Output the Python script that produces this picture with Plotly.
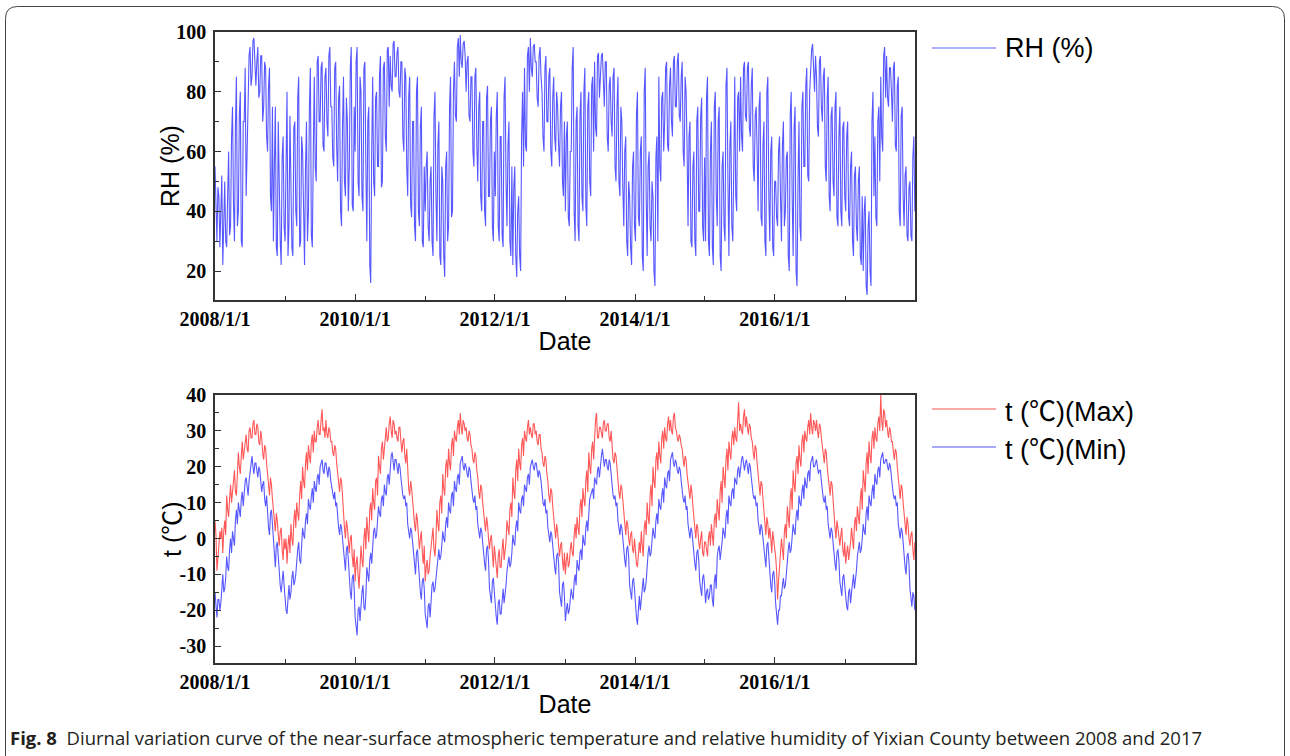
import pandas as pd
import plotly.graph_objects as go

# ---------------- data (~6 samples per month) ----------------
rh = [
    # 2008
    55,38,30,48,45,28, 38,52,22,35,50,30, 28,45,60,32,35,65, 75,42,30,68,85,35, 40,72,80,30,28,70, 70,88,45,60,85,92,
    95,82,85,97,98,88, 82,90,95,78,80,92, 92,70,75,90,88,65, 60,82,88,45,40,75, 30,55,75,28,25,70, 45,30,22,58,65,35,
    # 2009
    30,62,80,25,35,72, 55,28,25,68,70,40, 35,78,85,28,30,65, 60,35,22,55,70,30, 40,75,88,32,28,60, 85,55,50,90,92,70,
    70,88,90,62,60,85, 88,70,65,92,95,75, 75,58,55,88,90,62, 50,78,82,40,35,68, 85,50,45,78,70,40, 55,88,95,42,40,75,
    # 2010
    60,90,95,50,45,85, 80,45,40,88,90,55, 30,70,75,22,16,60, 85,50,45,78,80,55, 55,85,92,48,50,88, 90,65,60,94,95,75,
    92,82,80,96,97,85, 85,93,95,80,78,90, 90,65,60,88,85,55, 45,78,85,42,38,70, 70,35,30,80,85,40, 35,68,75,30,28,55,
    # 2011
    40,55,60,35,30,50, 55,30,25,72,80,45, 30,62,70,25,22,55, 50,25,18,55,60,30, 35,75,85,38,40,80, 90,72,70,95,98,85,
    99,90,88,96,97,92, 80,90,92,72,70,85, 85,60,55,85,88,62, 50,75,80,45,40,70, 70,40,35,78,82,45, 45,70,75,35,30,60,
    # 2012
    45,72,80,35,30,65, 65,32,28,78,85,50, 35,62,70,30,25,55, 22,48,55,25,18,40, 45,25,20,65,80,55, 88,62,60,92,95,80,
    98,88,85,95,96,90, 90,78,75,92,95,85, 80,65,60,88,92,70, 70,85,88,60,55,78, 85,65,60,80,75,62, 55,75,80,50,45,70,
    # 2013
    40,65,70,38,35,60, 60,88,95,40,30,70, 75,35,30,72,80,45, 40,80,88,42,35,75, 80,50,45,82,85,60, 90,68,65,92,93,78,
    88,92,93,80,75,90, 90,65,60,82,85,70, 65,85,88,55,50,75, 85,50,45,75,70,48, 35,60,65,30,25,50, 45,28,22,55,60,35,
    # 2014
    30,72,80,38,35,60, 65,25,20,80,88,45, 25,55,60,35,30,50, 45,20,15,58,65,30, 85,55,50,78,80,60, 70,88,90,62,60,82,
    88,70,65,90,92,75, 75,90,93,72,70,85, 90,60,55,85,80,62, 35,65,70,30,28,55, 60,30,25,70,75,40, 40,72,78,35,30,58,
    # 2015
    30,78,85,30,25,60, 70,28,22,75,80,45, 35,70,75,25,20,55, 60,35,30,82,88,50, 25,62,70,35,30,55, 85,45,40,78,80,60,
    85,65,60,88,90,72, 70,88,90,68,65,82, 88,55,50,72,75,60, 40,75,80,38,35,62, 70,30,25,80,85,45, 30,60,65,28,25,50,
    # 2016
    50,38,35,60,65,45, 30,62,70,35,40,58, 60,25,20,72,80,45, 25,68,75,20,15,50, 70,35,30,75,80,55, 55,82,88,52,50,80,
    90,94,96,85,80,92, 85,68,65,90,92,75, 70,85,88,55,50,78, 85,45,40,72,75,50, 45,75,80,38,35,65, 75,40,35,68,70,45,
    # 2017
    40,65,70,38,35,55, 60,30,25,52,55,35, 30,50,55,25,22,45, 20,40,45,15,12,35, 40,20,15,70,80,45, 65,38,35,70,75,50,
    85,65,60,92,95,78, 92,78,75,88,88,80, 70,88,90,62,60,82, 85,40,35,72,75,45, 35,52,55,32,30,48, 50,32,30,58,65,40,
]

t_max = [
    # 2008
    5,1,-9,-4,-2,2, 0,3,-4,2,5,1, 12,8,6,11,15,10, 14,17,19,13,12,18, 24,20,18,23,27,22, 25,28,29,25,24,30,
    31,28,28,32,33,29, 29,32,31,27,26,30, 28,24,22,26,25,21, 18,15,12,17,15,11, 8,4,2,7,5,1, -2,2,3,-3,-6,0,
    # 2009
    -3,0,-7,-2,1,-4, 4,0,-2,5,8,3, 10,7,5,12,16,11, 20,16,14,21,24,19, 26,23,21,27,29,24, 30,27,27,31,33,29,
    29,33,36,30,31,28, 33,29,28,31,30,27, 27,24,23,26,25,21, 18,15,13,17,16,12, 6,3,0,5,3,-1, -4,0,1,-5,-8,-3,
    # 2010
    -12,-7,-5,-10,-14,-8, -2,-6,-8,0,3,-3, 6,2,-1,8,10,5, 14,10,8,16,17,12, 23,20,18,25,27,22, 26,30,31,27,28,32,
    34,30,28,33,32,29, 30,28,27,31,31,27, 24,27,28,23,21,25, 17,14,12,16,14,10, 8,4,2,7,5,1, -3,0,2,-4,-7,-2,
    # 2011
    -12,-8,-6,-10,-9,-5, -2,1,3,-3,-5,0, 8,4,2,10,12,7, 18,14,12,20,22,17, 25,21,19,26,28,23, 30,28,27,31,33,29,
    35,31,29,33,32,30, 31,28,27,30,29,26, 25,22,21,24,23,19, 17,13,11,15,14,10, 7,4,2,6,4,0, -3,0,1,-4,-8,-2,
    # 2012
    -6,-9,-11,-5,-3,-8, -8,-3,0,-6,-4,-1, 5,2,1,8,10,6, 17,13,11,19,22,16, 25,21,19,26,28,23, 30,28,27,31,33,29,
    31,29,28,32,32,29, 30,27,26,29,29,25, 24,21,20,23,22,18, 16,12,10,14,13,9, 5,2,0,4,2,-2, -5,-2,-1,-6,-9,-4,
    # 2013
    -10,-6,-4,-8,-7,-3, -1,-4,-5,1,4,0, 6,3,1,9,11,6, 14,11,9,16,19,13, 24,20,18,25,27,22, 29,33,35,28,28,31,
    31,29,28,32,33,30, 30,32,32,28,27,30, 25,22,21,24,23,19, 16,13,11,15,14,10, 6,3,1,5,4,0, -2,1,2,-3,-4,0,
    # 2014
    -5,-7,-8,-3,-1,-4, 2,-2,-5,3,5,1, 10,6,4,12,15,9, 20,16,14,22,24,19, 27,23,21,28,30,25, 31,28,27,32,34,30,
    33,30,29,34,35,31, 30,28,27,29,28,26, 25,22,20,23,22,18, 16,13,11,15,13,9, 5,2,0,4,3,-1, -3,0,2,-4,-5,-1,
    # 2015
    -1,-3,-5,0,2,-2, 4,1,-2,5,7,3, 11,8,5,13,16,10, 20,17,14,22,25,19, 27,24,22,28,30,26, 31,28,27,33,38,30,
    32,30,29,34,36,31, 34,31,29,32,31,28, 27,24,22,26,25,21, 17,14,12,16,15,11, 7,4,1,6,4,0, 3,0,-4,2,0,-3,
    # 2016
    -5,-9,-17,-12,-8,-4, 0,-3,-6,2,4,0, 9,6,3,11,14,8, 19,15,13,21,23,18, 26,22,20,27,29,24, 30,28,27,31,33,29,
    35,31,29,33,32,30, 33,30,28,32,31,28, 26,23,21,25,24,20, 17,14,12,16,15,11, 6,3,0,5,3,-1, -2,1,3,-3,-5,-1,
    # 2017
    -7,-4,-2,-6,-4,-1, 3,0,-3,4,6,2, 9,6,4,11,14,8, 19,16,13,21,24,18, 27,23,21,28,30,25, 31,28,27,32,34,30,
    40,33,30,36,35,31, 33,30,28,31,30,27, 27,24,22,25,24,20, 17,14,11,15,14,10, 7,4,1,6,4,0, -2,1,2,-3,-6,-1,
]

t_min = [
    # 2008
    -15,-19,-22,-17,-17,-20, -18,-14,-10,-15,-14,-11, -5,-8,-9,-3,0,-4, 2,0,-2,5,8,4, 10,8,6,11,13,9, 14,16,17,13,12,16,
    19,21,23,20,18,21, 21,19,17,20,19,16, 13,15,16,11,9,12, 6,3,1,7,8,4, -3,-6,-8,-2,-1,-5, -10,-13,-15,-11,-9,-13,
    # 2009
    -18,-20,-21,-15,-13,-17, -15,-11,-9,-13,-12,-10, -5,-3,-1,-6,-7,-2, 3,1,0,5,7,4, 11,9,8,12,14,10, 16,14,13,17,18,15,
    20,21,22,19,18,21, 21,19,17,20,19,16, 14,12,11,13,9,10, 5,3,1,4,3,0, -4,-7,-9,-3,-2,-6, -12,-15,-17,-11,-10,-14,
    # 2010
    -22,-25,-27,-20,-19,-23, -18,-15,-13,-19,-20,-16, -8,-10,-12,-6,-4,-7, -1,2,3,0,1,4, 9,7,6,11,12,9, 15,13,12,17,18,15,
    21,23,24,20,19,22, 22,20,18,21,20,17, 14,12,11,12,9,10, 4,2,0,3,2,-1, -5,-8,-10,-4,-3,-7, -13,-15,-17,-12,-11,-14,
    # 2011
    -21,-23,-25,-19,-18,-22, -16,-13,-12,-15,-14,-11, -7,-5,-3,-6,-5,-2, 2,0,-1,4,6,3, 10,8,7,12,13,9, 16,14,13,17,18,15,
    21,22,23,20,19,21, 20,18,17,20,19,16, 13,11,10,12,8,9, 4,2,0,3,2,-1, -5,-7,-9,-3,-2,-6, -14,-16,-18,-12,-11,-15,
    # 2012
    -20,-22,-24,-18,-17,-21, -21,-17,-14,-18,-16,-13, -9,-7,-5,-8,-7,-4, 1,-1,-2,3,5,2, 10,8,7,11,12,9, 15,14,13,17,18,15,
    20,21,22,20,19,21, 21,19,17,19,18,16, 12,10,9,11,7,8, 3,1,-1,2,1,-2, -6,-8,-10,-5,-4,-7, -15,-17,-19,-13,-12,-16,
    # 2013
    -23,-20,-18,-21,-20,-17, -14,-16,-17,-12,-10,-13, -6,-8,-9,-4,-3,-6, 1,-1,-2,3,5,2, 9,11,12,13,14,11, 17,16,15,19,20,17,
    21,23,25,21,20,22, 22,20,19,22,21,18, 14,12,11,12,9,10, 5,3,1,4,3,0, -4,-6,-8,-3,-2,-5, -13,-15,-17,-12,-11,-14,
    # 2014
    -19,-22,-24,-18,-16,-20, -17,-14,-11,-15,-14,-12, -6,-4,-2,-5,-4,-1, 3,1,0,5,7,4, 11,9,8,12,14,10, 17,15,14,18,19,16,
    22,23,24,21,20,22, 21,19,18,20,19,16, 13,11,10,12,8,9, 4,2,0,3,2,-1, -5,-7,-9,-4,-3,-6, -12,-14,-16,-11,-10,-13,
    # 2015
    -18,-15,-14,-17,-16,-13, -13,-17,-19,-12,-10,-14, -5,-3,-2,-6,-4,-1, 3,1,0,6,8,4, 12,10,9,13,14,11, 17,16,15,19,20,17,
    21,22,23,20,19,21, 22,20,18,21,20,17, 14,12,11,12,9,10, 5,3,1,4,3,0, -3,-6,-8,-2,-1,-5, -11,-13,-15,-10,-9,-12,
    # 2016
    -18,-22,-24,-20,-20,-16, -16,-13,-11,-14,-13,-10, -5,-3,-1,-4,-3,0, 4,2,1,6,8,5, 12,10,9,13,15,11, 17,15,14,18,19,16,
    21,22,23,20,20,21, 22,20,18,19,19,16, 13,11,10,12,8,9, 4,2,0,3,2,-1, -5,-7,-9,-4,-3,-6, -12,-14,-16,-11,-10,-13,
    # 2017
    -17,-19,-20,-15,-14,-18, -15,-12,-10,-14,-12,-9, -5,-3,-1,-4,-3,0, 4,2,1,7,9,5, 12,10,9,13,15,11, 18,16,15,19,20,17,
    22,23,24,21,21,22, 22,20,19,21,20,17, 14,12,11,12,9,10, 4,2,0,3,2,-1, -6,-8,-10,-5,-4,-7, -14,-16,-19,-15,-16,-20,
]

major_dates = ["2008-01-01", "2010-01-01", "2012-01-01", "2014-01-01", "2016-01-01"]
major_labels = ["2008/1/1", "2010/1/1", "2012/1/1", "2014/1/1", "2016/1/1"]
minor_dates = ["2009-01-01", "2011-01-01", "2013-01-01", "2015-01-01", "2017-01-01"]
rh_ticks = [20, 40, 60, 80, 100]
rh_tick_labels = ["20", "40", "60", "80", "100"]
t_ticks = [-30, -20, -10, 0, 10, 20, 30, 40]
t_tick_labels = ["-30", "-20", "-10", "0", "10", "20", "30", "40"]

DEG = '<span style="font-family:Noto Sans CJK SC">℃</span>'
rh_title = "RH (%)"
t_title = "t (" + DEG + ")"
x_title = "Date"
legend_rh = "RH (%)"
legend_max = "t (" + DEG + ")(Max)"
legend_min = "t (" + DEG + ")(Min)"
caption_bold = "Fig. 8"
caption_text = ("Diurnal variation curve of the near-surface atmospheric temperature and "
                "relative humidity of Yixian County between 2008 and 2017")

# ---------------- figure ----------------
W, H = 1290, 756


def px(x):
    return x / W


def py(y):
    return 1 - y / H


def dates_for(values):
    return pd.date_range("2008-01-01", "2017-12-31", periods=len(values))


BLUE = "rgba(0,0,255,0.66)"
RED = "rgba(255,0,0,0.66)"
SANS = "Liberation Sans, Arial, sans-serif"

fig = go.Figure()
fig.add_trace(go.Scatter(x=dates_for(rh), y=rh, mode="lines", name="RH (%)",
                         line=dict(color=BLUE, width=1.1), xaxis="x", yaxis="y", showlegend=False))
fig.add_trace(go.Scatter(x=dates_for(t_max), y=t_max, mode="lines", name="t (℃)(Max)",
                         line=dict(color=RED, width=1.1), xaxis="x2", yaxis="y2", showlegend=False))
fig.add_trace(go.Scatter(x=dates_for(t_min), y=t_min, mode="lines", name="t (℃)(Min)",
                         line=dict(color=BLUE, width=1.1), xaxis="x2", yaxis="y2", showlegend=False))

tickfont = dict(family="Liberation Serif", size=20, color="black", weight="bold")
titlefont = dict(family=SANS, size=25, color="black")
axis_line = dict(showline=True, linecolor="#333333", linewidth=1.5, mirror=True,
                 showgrid=False, zeroline=False, ticks="inside", ticklen=6, tickwidth=1.2,
                 tickcolor="#333333", tickfont=tickfont, automargin=False)
minor_common = dict(tickmode="array", ticks="inside", ticklen=4, tickcolor="#333333", tickwidth=1.2)

xcommon = dict(type="date", range=["2008-01-01", "2018-01-01"], tickmode="array",
               tickvals=major_dates, ticktext=major_labels,
               minor=dict(tickvals=minor_dates, **minor_common),
               title=dict(text=x_title, font=titlefont, standoff=4), **axis_line)

fig.update_layout(
    width=W, height=H,
    margin=dict(l=0, r=0, t=0, b=0),
    paper_bgcolor="white", plot_bgcolor="white",
    showlegend=False,
    xaxis=dict(domain=[px(215), px(915)], anchor="y", **xcommon),
    yaxis=dict(domain=[py(300), py(32)], anchor="x", range=[10.3, 100], tickmode="array",
               tickvals=rh_ticks, ticktext=rh_tick_labels,
               minor=dict(tickvals=[30, 50, 70, 90], **minor_common),
               ticklabelstandoff=3, **axis_line),
    xaxis2=dict(domain=[px(215), px(915)], anchor="y2", **xcommon),
    yaxis2=dict(domain=[py(663), py(395)], anchor="x2", range=[-34.7, 40], tickmode="array",
                tickvals=t_ticks, ticktext=t_tick_labels,
                minor=dict(tickvals=[-25, -15, -5, 5, 15, 25, 35], **minor_common),
                ticklabelstandoff=3, **axis_line),
)

shapes = []
annotations = []

# y-axis titles
for yc, txt in [(166, rh_title), (529, t_title)]:
    annotations.append(dict(xref="paper", yref="paper", x=px(170), y=py(yc), xanchor="center",
                            yanchor="middle", text=txt, textangle=-90, showarrow=False,
                            font=titlefont))

# legends drawn as line samples + text
legend_items = [(48, "rgba(120,120,255,0.8)", legend_rh),
                (409, "rgba(255,110,110,0.8)", legend_max),
                (447, "rgba(110,110,255,0.8)", legend_min)]
for yy, col, txt in legend_items:
    shapes.append(dict(type="line", xref="paper", yref="paper", x0=px(932), x1=px(996),
                       y0=py(yy), y1=py(yy), line=dict(color=col, width=1.5)))
    annotations.append(dict(xref="paper", yref="paper", x=px(1003), y=py(yy), xanchor="left",
                            yanchor="middle", text=txt, showarrow=False,
                            font=dict(family=SANS, size=27, color="black")))

# caption
annotations.append(dict(xref="paper", yref="paper", x=px(8), y=py(737), xanchor="left",
                        yanchor="middle", showarrow=False,
                        text="<b>" + caption_bold + "</b>\u00a0\u00a0" + caption_text,
                        font=dict(family="Open Sans", size=18.5, color="#231f20")))

# rounded outer frame (left, top, right edges)
r = 12
L, T, R, B = 5.5, 6.5, 1284.5, 760
path = (f"M {px(L)},{py(B)} L {px(L)},{py(T + r)} Q {px(L)},{py(T)} {px(L + r)},{py(T)} "
        f"L {px(R - r)},{py(T)} Q {px(R)},{py(T)} {px(R)},{py(T + r)} L {px(R)},{py(B)}")
shapes.append(dict(type="path", xref="paper", yref="paper", path=path,
                   line=dict(color="#444444", width=1)))

fig.update_layout(shapes=shapes, annotations=annotations)

fig.write_html("out.html", config={"displayModeBar": False},
               post_script="document.body.style.margin='0px';")
